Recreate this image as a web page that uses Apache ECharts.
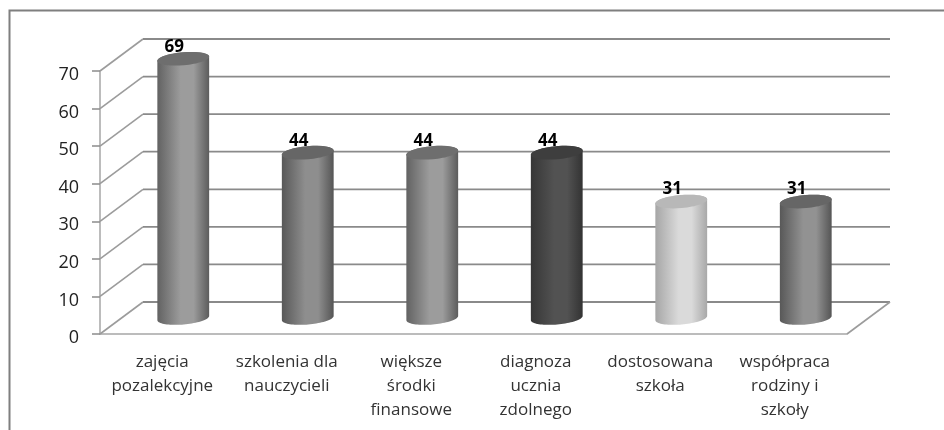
<!DOCTYPE html>
<html>
<head>
<meta charset="utf-8">
<style>
  html, body { margin: 0; padding: 0; background: #fff; }
  #chart { width: 944px; height: 430px; }
</style>
</head>
<body>
<div id="chart"></div>
<script src="https://cdn.jsdelivr.net/npm/echarts@6/dist/echarts.min.js"></script>
<script>
const categories = [
  'zajęcia\npozalekcyjne',
  'szkolenia dla\nnauczycieli',
  'większe\nśrodki\nfinansowe',
  'diagnoza\nucznia\nzdolnego',
  'dostosowana\nszkoła',
  'współpraca\nrodziny i\nszkoły'
];
const values = [69, 44, 44, 44, 31, 31];
const gridTicks = [0, 10, 20, 30, 40, 50, 60, 70];

// left edge, centre, right edge, lid colour for every cylinder
const shades = [
  ['#626262', '#9c9c9c', '#5c5c5c', '#6e6e6e'],
  ['#585858', '#8e8e8e', '#555555', '#666666'],
  ['#626262', '#9c9c9c', '#5c5c5c', '#6e6e6e'],
  ['#363636', '#525252', '#333333', '#3e3e3e'],
  ['#a6a6a6', '#dadada', '#a8a8a8', '#b8b8b8'],
  ['#585858', '#929292', '#555555', '#666666']
];

const depthX = 43;
const depthY = 32;
const barHalf = 26;
const lidRy = 6.5;
const tilt = 5 * Math.PI / 180;

// point on the tilted ellipse
function ellipsePoint(cx, cy, a) {
  const ex = barHalf * Math.cos(a);
  const ey = lidRy * Math.sin(a);
  return [
    cx + ex * Math.cos(tilt) + ey * Math.sin(tilt),
    cy - ex * Math.sin(tilt) + ey * Math.cos(tilt)
  ];
}

function renderWall(params, api) {
  const g = params.coordSys;
  const y = api.coord([0, api.value(1)])[1];
  const backY = y - depthY;
  const children = [
    {
      type: 'line',
      shape: { x1: g.x, y1: y, x2: g.x + depthX, y2: backY },
      style: { stroke: '#9c9c9c', lineWidth: 1.6 }
    },
    {
      type: 'line',
      shape: { x1: g.x + depthX, y1: backY, x2: g.x + g.width + depthX, y2: backY },
      style: { stroke: '#8a8a8a', lineWidth: 1.8 }
    }
  ];
  if (api.value(1) === 0) {
    children.push({
      type: 'line',
      shape: { x1: g.x + g.width, y1: y, x2: g.x + g.width + depthX, y2: backY },
      style: { stroke: '#9c9c9c', lineWidth: 1.6 }
    });
  }
  return { type: 'group', children: children };
}

function renderCylinder(params, api) {
  const i = params.dataIndex;
  const top = api.coord([i, api.value(1)]);
  const base = api.coord([i, 0]);
  const cx = top[0] + depthX / 2 - 0.5;
  const topY = top[1] - depthY / 2;
  const baseY = base[1] - depthY / 2;
  const pts = [];
  for (let k = 0; k <= 40; k++) {
    pts.push(ellipsePoint(cx, topY, Math.PI * (1 + k / 40)));
  }
  for (let k = 0; k <= 40; k++) {
    pts.push(ellipsePoint(cx, baseY, Math.PI * k / 40));
  }
  const c = shades[i];
  return {
    type: 'group',
    children: [
      {
        type: 'polygon',
        shape: { points: pts },
        style: {
          fill: new echarts.graphic.LinearGradient(0, 0, 1, 0, [
            { offset: 0, color: c[0] },
            { offset: 0.45, color: c[1] },
            { offset: 0.7, color: c[1] },
            { offset: 1, color: c[2] }
          ])
        }
      },
      {
        type: 'ellipse',
        shape: { cx: 0, cy: 0, rx: barHalf, ry: lidRy },
        x: cx,
        y: topY,
        rotation: tilt,
        style: { fill: c[3] }
      },
      {
        type: 'text',
        x: cx - 9,
        y: topY - 12,
        style: {
          text: String(api.value(1)),
          fill: '#000',
          font: 'bold 17px "Open Sans"',
          align: 'center',
          verticalAlign: 'middle'
        }
      }
    ]
  };
}

const chart = echarts.init(document.getElementById('chart'));
chart.setOption({
  animation: false,
  backgroundColor: '#fff',
  graphic: [{
    type: 'rect',
    shape: { x: 9.5, y: 10.5, width: 960, height: 450 },
    style: { fill: null, stroke: '#7f7f7f', lineWidth: 2 },
    silent: true,
    z: -1
  }],
  grid: { left: 100, right: 97, top: 71, bottom: 96 },
  xAxis: {
    type: 'category',
    data: categories,
    axisLine: { lineStyle: { color: '#a6a6a6', width: 1.5 } },
    axisTick: { length: 5, lineStyle: { color: '#8c8c8c', width: 1.5 } },
    axisLabel: { color: '#333', fontFamily: 'Open Sans', fontSize: 17, lineHeight: 24, margin: 16, interval: 0 }
  },
  yAxis: {
    type: 'value',
    min: 0,
    max: 70,
    interval: 10,
    axisLine: { show: true, lineStyle: { color: '#a6a6a6', width: 1.5 } },
    axisTick: { show: true, length: 8, lineStyle: { color: '#8c8c8c', width: 1.5 } },
    axisLabel: { color: '#222', fontFamily: 'Open Sans', fontSize: 18, margin: 21, verticalAlign: 'top', lineHeight: 8 },
    splitLine: { show: false }
  },
  series: [
    {
      type: 'custom',
      coordinateSystem: 'cartesian2d',
      data: gridTicks.map(t => [0, t]),
      renderItem: renderWall,
      clip: false,
      silent: true,
      z: 1
    },
    {
      type: 'custom',
      coordinateSystem: 'cartesian2d',
      data: values.map((v, i) => [i, v]),
      renderItem: renderCylinder,
      clip: false,
      silent: true,
      z: 2
    }
  ]
});
</script>
</body>
</html>
